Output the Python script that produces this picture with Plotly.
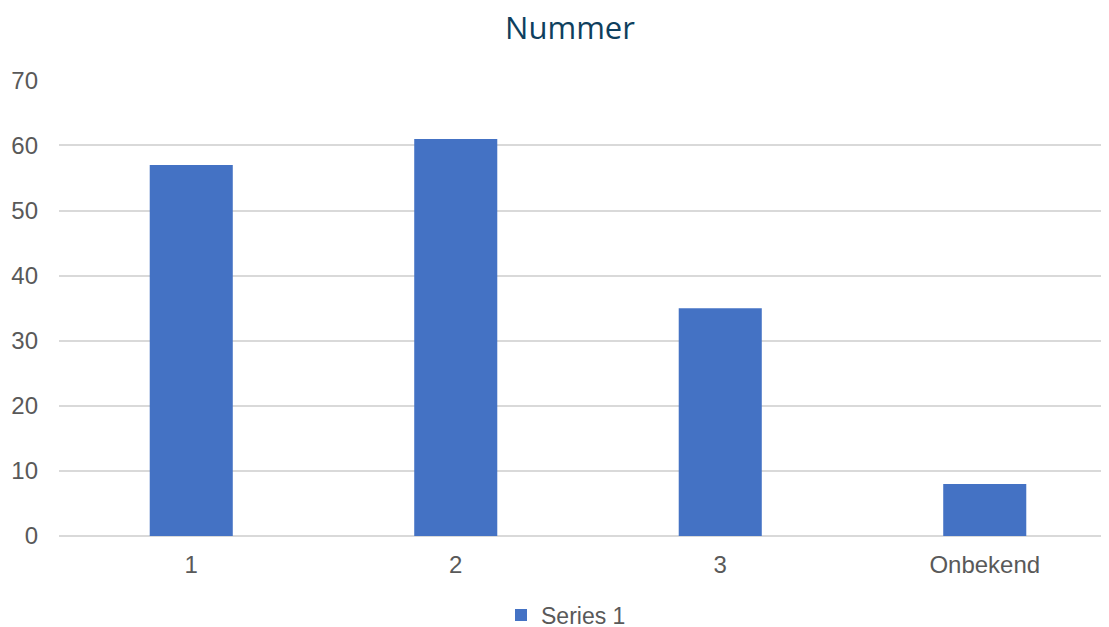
import plotly.graph_objects as go

categories = ["1", "2", "3", "Onbekend"]
values = [57, 61, 35, 8]
series_name = "Series 1"
title_text = "Nummer"

fig = go.Figure()
fig.add_trace(go.Bar(
    x=categories, y=values, name=series_name,
    marker=dict(color="#4472C4", line=dict(width=0)),
    width=0.314,
))

fig.update_layout(
    width=1109, height=627,
    paper_bgcolor="white", plot_bgcolor="white",
    margin=dict(l=51, r=0, t=72, b=99, autoexpand=False),
    title=dict(text=title_text, x=562/1109, xanchor="center", y=1 - 20/627, yanchor="middle",
               font=dict(family="Open Sans, Noto Sans, sans-serif", size=31, color="#0E3F5E")),
    showlegend=True,
    legend=dict(orientation="h", xref="container", x=558/1109, xanchor="center",
                yref="container", y=1 - 607/627, yanchor="middle",
                font=dict(family="Liberation Sans, Arial, sans-serif", size=23, color="#595959"),
                itemwidth=30, tracegroupgap=0),
    font=dict(family="Liberation Sans, Arial, sans-serif", size=24, color="#595959"),
)
fig.update_xaxes(showgrid=False, showline=False, zeroline=False, ticks="",
                 ticklabelstandoff=12,
                 tickfont=dict(size=24, color="#595959"))
fig.update_yaxes(range=[0, 70.05], tickvals=[0, 10, 20, 30, 40, 50, 60, 70],
                 showgrid=True, gridcolor="#D9D9D9", gridwidth=1.5,
                 zeroline=True, zerolinecolor="#D9D9D9", zerolinewidth=1.5, showline=False,
                 ticks="", ticklabelstandoff=20,
                 tickfont=dict(size=24, color="#595959"))

fig.write_html("out.html")
